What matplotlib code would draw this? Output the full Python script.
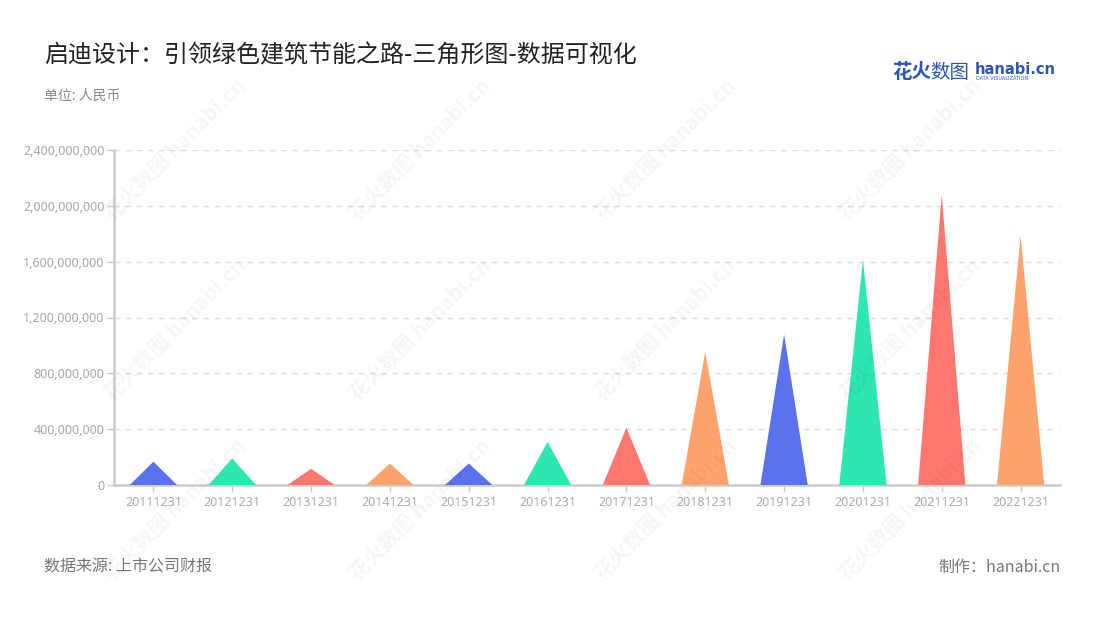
import matplotlib
matplotlib.use("Agg")
import matplotlib.pyplot as plt
from matplotlib.ticker import FuncFormatter, FixedLocator

plt.rcParams['font.family'] = ['Noto Sans CJK SC', 'DejaVu Sans']

categories = ["20111231", "20121231", "20131231", "20141231", "20151231", "20161231",
              "20171231", "20181231", "20191231", "20201231", "20211231", "20221231"]
values = [167e6, 190e6, 116e6, 154e6, 154e6, 309e6,
          411e6, 952e6, 1079e6, 1614e6, 2079e6, 1788e6]
palette = ["#5a72ee", "#2ee6b0", "#ff7870", "#ffa36e"]
yticks = [0, 400e6, 800e6, 1200e6, 1600e6, 2000e6, 2400e6]

title = "启迪设计：引领绿色建筑节能之路-三角形图-数据可视化"
unit = "单位: 人民币"
source = "数据来源: 上市公司财报"
maker = "制作：hanabi.cn"

W, H = 1100, 620
fig = plt.figure(figsize=(W / 100, H / 100), dpi=100)
fig.patch.set_facecolor("white")

def fx(px):
    return px / W

def fy(py):
    return 1 - py / H

ax = fig.add_axes([fx(114), fy(485), fx(1060) - fx(114), fy(150) - fy(485)])
ax.set_xlim(-0.5, len(categories) - 0.5)
ax.set_ylim(0, 2400e6)

half = 0.30
for i, v in enumerate(values):
    ax.fill([i - half, i, i + half], [0, v, 0], color=palette[i % 4], lw=0, zorder=3)

ax.yaxis.set_major_locator(FixedLocator(yticks))
ax.yaxis.set_major_formatter(FuncFormatter(lambda v, p: f"{int(v):,}"))
ax.set_xticks(range(len(categories)))
ax.set_xticklabels(categories)
ax.grid(axis="y", color="#dddddd", linestyle=(0, (4, 4)), linewidth=1, zorder=0)
ax.set_axisbelow(True)
for s in ["top", "right"]:
    ax.spines[s].set_visible(False)
for s in ["left", "bottom"]:
    ax.spines[s].set_color("#cccccc")
    ax.spines[s].set_linewidth(1.8)
ax.tick_params(axis="y", colors="#cccccc", length=5, width=1, labelcolor="#a6a6a6",
               labelsize=9, pad=2)
ax.tick_params(axis="x", colors="#cccccc", length=5, width=1, labelcolor="#a8abbb",
               labelsize=9, pad=3)
for lab in ax.get_yticklabels() + ax.get_xticklabels():
    lab.set_family(['Noto Sans', 'DejaVu Sans'])

# watermarks
for wx in [175, 420, 665, 910]:
    for wy in [150, 330, 510]:
        fig.text(fx(wx), fy(wy), "花火数图 hanabi.cn", rotation=45, fontsize=15,
                 color="#000000", alpha=0.04, ha="center", va="center", fontweight="bold")

fig.text(fx(44), fy(55), title, fontsize=17.3, color="#222222", ha="left", va="center")
fig.text(fx(44), fy(96), unit, fontsize=10, color="#8a8a8a", ha="left", va="center")
fig.text(fx(44), fy(567), source, fontsize=11.5, color="#777777", ha="left", va="center")
fig.text(fx(1061), fy(567), maker, fontsize=11.5, color="#777777", ha="right", va="center")

# logo
fig.text(fx(892), fy(72), "花火", fontsize=14, color="#2b55b8", fontweight="bold",
         ha="left", va="center")
fig.text(fx(930), fy(72), "数图", fontsize=14, color="#2b55b8", ha="left", va="center")
fig.text(fx(975), fy(69), "hanabi.cn", fontsize=10.5, color="#2b55b8", fontweight="bold",
         ha="left", va="center", family=['DejaVu Sans'])
fig.text(fx(976), fy(79), "DATA VISUALIZATION", fontsize=3.6, color="#2b55b8",
         ha="left", va="center", family=['DejaVu Sans'])

fig.savefig("out.png", dpi=100, facecolor="white")
